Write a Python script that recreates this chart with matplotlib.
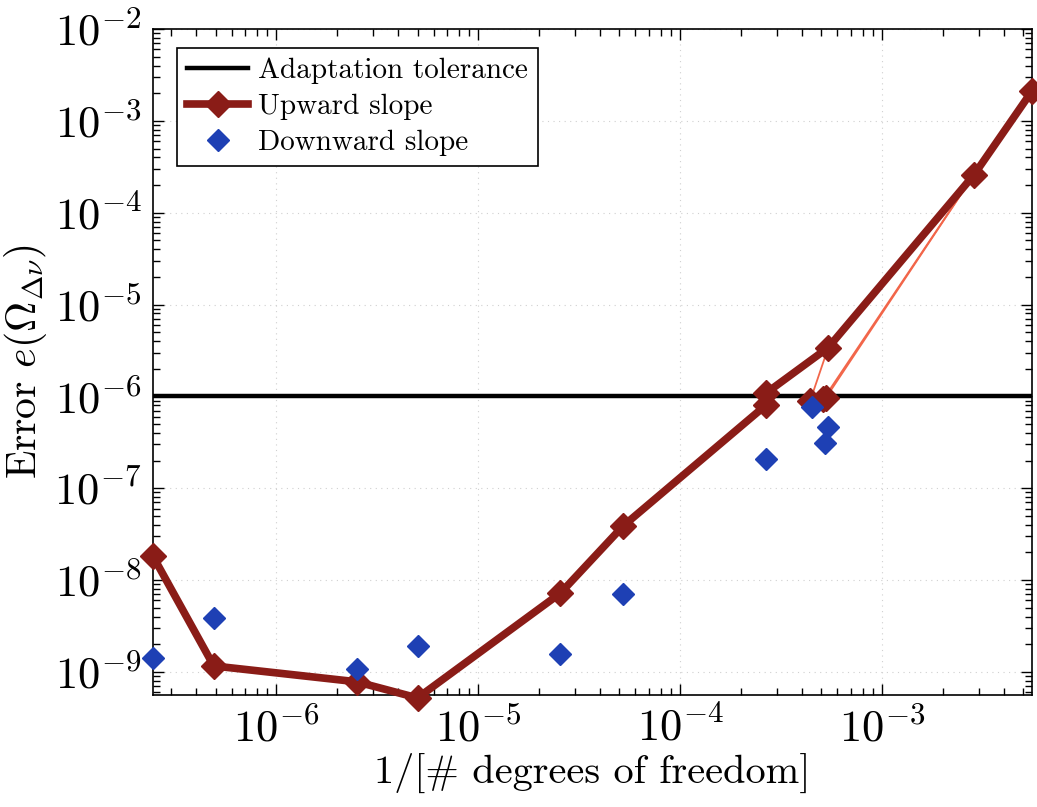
import matplotlib
matplotlib.use('Agg')
import matplotlib.pyplot as plt
from matplotlib.ticker import LogLocator, FuncFormatter, NullFormatter
import numpy as np

# ---------------- data ----------------
tolerance = 1e-6

up_x = [2.45e-7, 4.9e-7, 2.5e-6, 5.0e-6, 2.55e-5, 5.2e-5, 2.65e-4, 2.65e-4, 5.4e-4, 2.85e-3, 5.5e-3]
up_y = [1.82e-8, 1.16e-9, 7.8e-10, 5.2e-10, 7.2e-9, 3.86e-8, 8.0e-7, 1.08e-6, 3.4e-6, 2.6e-4, 2.1e-3]

# extra upward-slope points with thin connecting branches
branch_x = [4.4e-4, 5.1e-4, 5.25e-4]
branch_y = [9.0e-7, 9.3e-7, 9.6e-7]
branch_to_x = [5.4e-4, 2.85e-3, 2.85e-3]
branch_to_y = [3.4e-6, 2.6e-4, 2.6e-4]

down_x = [2.45e-7, 4.9e-7, 2.5e-6, 5.0e-6, 2.55e-5, 5.2e-5, 2.65e-4, 4.5e-4, 5.4e-4, 5.2e-4]
down_y = [1.4e-9, 3.9e-9, 1.08e-9, 1.92e-9, 1.57e-9, 7.0e-9, 2.1e-7, 7.65e-7, 4.6e-7, 3.1e-7]

x_ticks = [1e-6, 1e-5, 1e-4, 1e-3]
y_ticks = [1e-9, 1e-8, 1e-7, 1e-6, 1e-5, 1e-4, 1e-3, 1e-2]

# ---------------- style ----------------
plt.rcParams['font.family'] = ['cmr10', 'DejaVu Serif']
plt.rcParams['mathtext.fontset'] = 'cm'
plt.rcParams['axes.unicode_minus'] = False

RED = '#8a1c17'
THIN = '#f2664a'
BLUE = '#1e40b4'

fig = plt.figure(figsize=(10.37, 8.07), dpi=100)
ax = fig.add_axes([0.1475, 0.1388, 0.8475, 0.8252])
ax.set_xscale('log')
ax.set_yscale('log')

ax.axhline(tolerance, color='black', lw=3.2, zorder=2, label='Adaptation tolerance')

for i in range(len(branch_x)):
    ax.plot([branch_x[i], branch_to_x[i]], [branch_y[i], branch_to_y[i]],
            color=THIN, lw=1.3, zorder=3)

ax.plot(up_x, up_y, color=RED, lw=5.5, marker='D', ms=13, mfc=RED, mec=RED,
        zorder=4, clip_on=False, label='Upward slope')
ax.plot(branch_x, branch_y, ls='none', marker='D', ms=13, mfc=RED, mec=RED,
        zorder=4, clip_on=False)
ax.plot(down_x, down_y, ls='none', marker='D', ms=11, mfc=BLUE, mec=BLUE,
        zorder=5, clip_on=False, label='Downward slope')

ax.set_xlim(2.45e-7, 5.5e-3)
ax.set_ylim(5.6e-10, 1e-2)

ax.set_xticks(x_ticks)
ax.set_yticks(y_ticks)
ax.xaxis.set_minor_locator(LogLocator(base=10, subs=np.arange(2, 10), numticks=20))
ax.yaxis.set_minor_locator(LogLocator(base=10, subs=np.arange(2, 10), numticks=20))
fmt = FuncFormatter(lambda v, p: r'$10^{%d}$' % int(round(np.log10(v))))
ax.xaxis.set_major_formatter(fmt)
ax.yaxis.set_major_formatter(fmt)
ax.xaxis.set_minor_formatter(NullFormatter())
ax.yaxis.set_minor_formatter(NullFormatter())

ax.tick_params(which='both', direction='in', top=True, right=True, width=1.0)
ax.tick_params(which='major', length=8, labelsize=32)
ax.tick_params(axis='x', which='major', pad=9)
ax.tick_params(axis='y', which='major', pad=8)
ax.tick_params(which='minor', length=5)

ax.grid(True, which='major', ls=(0, (1, 4)), color='#d0d0d0', lw=0.8, zorder=0)
for s in ax.spines.values():
    s.set_linewidth(1.2)

ax.set_xlabel('1/[# degrees of freedom]', fontsize=29, labelpad=2)
ax.set_ylabel(r'Error $e(\Omega_{\Delta\nu})$', fontsize=30, labelpad=4)

leg = ax.legend(loc='upper left', bbox_to_anchor=(0.027, 0.972), fontsize=21,
                frameon=True, fancybox=False, edgecolor='black', framealpha=1,
                handlelength=2.1, handletextpad=0.35, borderpad=0.35,
                labelspacing=0.32, borderaxespad=0)
leg.get_frame().set_linewidth(1.2)

fig.savefig('out.png', dpi=100)
